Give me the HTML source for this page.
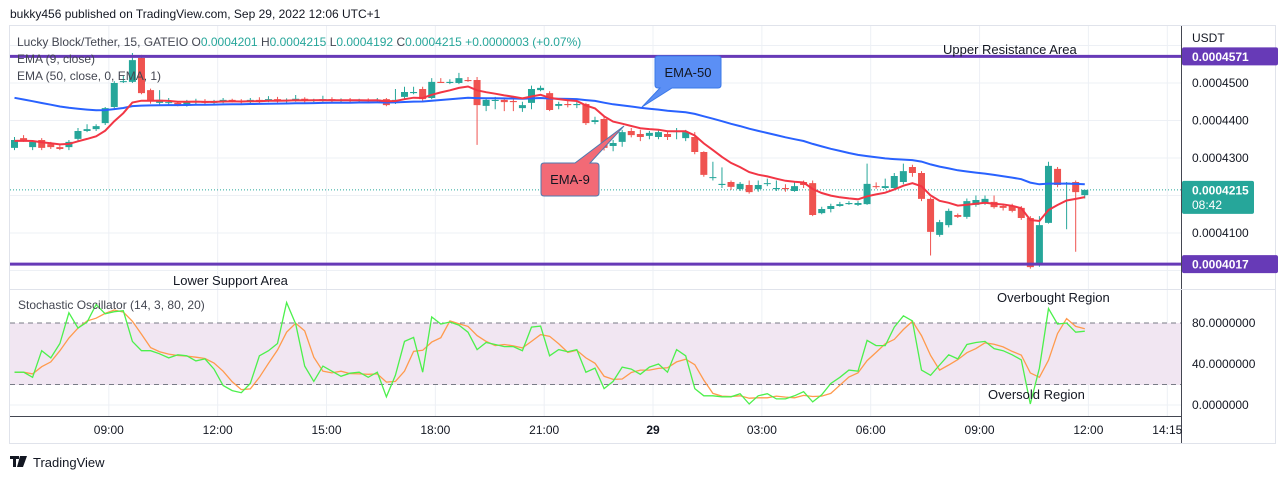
<!DOCTYPE html>
<html><head><meta charset="utf-8"><style>
html,body{margin:0;padding:0;background:#fff;}
body{width:1280px;height:479px;overflow:hidden;font-family:"Liberation Sans",sans-serif;}
svg text{font-family:"Liberation Sans",sans-serif;}
</style></head><body>
<svg id="chart" width="1280" height="479" viewBox="0 0 1280 479" xmlns="http://www.w3.org/2000/svg">
<text x="10" y="18" font-size="12" fill="#131722">bukky456 published on TradingView.com, Sep 29, 2022 12:06 UTC+1</text>
<rect x="9.5" y="25.5" width="1266" height="418" fill="none" stroke="#e0e3eb"/>
<g id="grid"></g>
<rect x="10" y="323" width="1171" height="62" fill="#f1e6f2"/>
<g id="marks"></g>
<line x1="1181.5" y1="26" x2="1181.5" y2="443" stroke="#434651"/>
<line x1="10" y1="416.5" x2="1181" y2="416.5" stroke="#434651"/>
<line x1="10" y1="289.5" x2="1276" y2="289.5" stroke="#e0e3eb"/>
<g id="axes"></g>
<text x="17" y="46" font-size="12" fill="#434651">Lucky Block/Tether, 15, GATEIO <tspan>O</tspan><tspan fill="#26a69a">0.0004201</tspan> <tspan>H</tspan><tspan fill="#26a69a">0.0004215</tspan> <tspan>L</tspan><tspan fill="#26a69a">0.0004192</tspan> <tspan>C</tspan><tspan fill="#26a69a">0.0004215 +0.0000003 (+0.07%)</tspan></text>
<text x="17" y="63" font-size="12" fill="#434651">EMA (9, close)</text>
<text x="17" y="80" font-size="12" fill="#434651">EMA (50, close, 0, EMA, 1)</text>
<text x="943" y="54" font-size="13" fill="#131722">Upper Resistance Area</text>
<text x="173" y="285" font-size="13" fill="#131722">Lower Support Area</text>
<text x="18" y="309" font-size="12" fill="#434651">Stochastic Oscillator (14, 3, 80, 20)</text>
<text x="997" y="302" font-size="13" fill="#131722">Overbought Region</text>
<text x="988" y="399" font-size="13" fill="#131722">Oversold Region</text>
<g>
<path d="M658,56 H718 Q721,56 721,59 V85 Q721,88 718,88 H672 L642,107 L660,88 H658 Q655,88 655,85 V59 Q655,56 658,56 Z" fill="#5b8ff5" stroke="#3a78e8"/>
<text x="688" y="77" font-size="13" fill="#131722" text-anchor="middle">EMA-50</text>
</g>
<g>
<path d="M544,163 H575 L624,126 L590,163 H596 Q599,163 599,166 V193 Q599,196 596,196 H544 Q541,196 541,193 V166 Q541,163 544,163 Z" fill="#f26a76" stroke="#4d7ab0"/>
<text x="570" y="184" font-size="13" fill="#131722" text-anchor="middle">EMA-9</text>
</g>
<g>
<path d="M10,456 h9 v3 h-3 v8 h-3 v-8 h-3 z M20,456 h3 l-3,11 h-3 z M23,456 h4 l-4,11 h-3 z" fill="#131722"/>
<text x="33" y="467" font-size="13" fill="#131722">TradingView</text>
</g>
</svg>
<script>
const opens =[4327,4353,4329,4348,4337,4329,4329,4351,4372,4377,4393,4436,4503,4503,4567,4481,4447,4447,4447,4441,4449,4452,4447,4450,4455,4452,4449,4455,4452,4457,4452,4455,4458,4452,4455,4457,4452,4455,4452,4455,4452,4457,4452,4463,4473,4484,4460,4503,4500,4500,4508,4508,4439,4452,4455,4452,4433,4447,4481,4473,4439,4444,4441,4444,4396,4404,4332,4343,4372,4364,4359,4356,4364,4369,4353,4356,4316,4247,4228,4236,4217,4228,4217,4231,4217,4220,4212,4236,4233,4153,4164,4172,4177,4175,4177,4225,4220,4220,4236,4276,4260,4191,4095,4121,4148,4143,4175,4180,4183,4172,4172,4167,4140,4015,4127,4271,4230,4236,4201];
const closes=[4348,4348,4343,4327,4329,4324,4343,4372,4377,4385,4433,4500,4505,4561,4473,4452,4455,4449,4441,4449,4452,4447,4450,4455,4452,4449,4455,4452,4457,4452,4455,4458,4452,4455,4457,4452,4455,4452,4455,4452,4455,4441,4455,4476,4476,4457,4503,4500,4503,4513,4505,4441,4455,4455,4449,4449,4441,4484,4487,4428,4444,4441,4444,4393,4401,4327,4340,4369,4361,4356,4367,4369,4356,4372,4369,4316,4255,4249,4231,4223,4231,4209,4228,4233,4220,4217,4225,4228,4148,4164,4172,4177,4180,4180,4231,4223,4225,4252,4265,4260,4191,4103,4129,4159,4143,4185,4188,4191,4169,4167,4159,4140,4009,4121,4279,4228,4234,4209,4215];
const highs =[4356,4361,4348,4353,4343,4337,4348,4380,4390,4390,4436,4505,4520,4580,4575,4485,4481,4460,4450,4455,4458,4457,4455,4460,4458,4457,4460,4462,4465,4463,4459,4468,4462,4458,4466,4462,4459,4460,4458,4459,4460,4460,4484,4490,4490,4490,4513,4513,4510,4527,4516,4516,4460,4463,4460,4457,4450,4493,4493,4478,4450,4452,4450,4447,4410,4410,4348,4375,4380,4375,4372,4375,4370,4380,4375,4369,4318,4290,4275,4240,4236,4240,4240,4245,4240,4230,4238,4240,4240,4170,4178,4183,4185,4185,4285,4235,4245,4260,4285,4282,4265,4195,4135,4165,4152,4192,4200,4200,4200,4178,4178,4172,4145,4145,4290,4276,4236,4240,4215];
const lows  =[4321,4343,4321,4321,4324,4321,4321,4345,4369,4372,4388,4430,4500,4500,4470,4445,4440,4441,4438,4437,4444,4443,4442,4446,4448,4444,4445,4447,4449,4448,4448,4450,4448,4449,4450,4448,4448,4448,4449,4448,4449,4438,4444,4458,4470,4452,4457,4500,4497,4497,4503,4335,4425,4430,4425,4425,4423,4430,4478,4425,4430,4435,4433,4388,4390,4320,4318,4330,4355,4345,4350,4350,4348,4350,4345,4310,4250,4240,4220,4215,4212,4205,4210,4225,4212,4210,4210,4220,4145,4150,4155,4170,4175,4172,4175,4218,4217,4215,4230,4250,4185,4040,4090,4115,4140,4138,4170,4175,4165,4160,4155,4135,4005,4010,4125,4222,4110,4050,4192];
const stochK=[32,32,27,53,46,60,90,75,81,98,89,91,92,62,53,53,50,46,49,48,43,45,35,19,14,12,21,48,53,60,100,79,38,23,38,33,28,31,32,27,32,8,29,62,66,32,86,79,81,78,71,54,61,59,57,57,53,76,77,48,54,52,54,32,36,16,23,37,35,30,37,40,32,54,48,16,9,9,8,8,11,1,9,11,6,6,9,13,3,10,21,27,34,33,63,58,58,76,87,82,34,29,39,49,45,59,61,62,55,53,49,44,1,36,94,79,80,71,72];
const ema9Seed=4345, ema50Seed=4465;
const resistance=4571, support=4017, lastPrice=4215;
const priceTicks=[4600,4500,4400,4300,4200,4100,4000];
const priceTickLabels=["","0.0004500","0.0004400","0.0004300","","0.0004100",""];
const stochTicks=[80,40,0];
const stochTickLabels=["80.0000000","40.0000000","0.0000000"];
const timeLabels=["09:00","12:00","15:00","18:00","21:00","29","03:00","06:00","09:00","12:00","14:15"];
const timeIdx=[10.4,22.4,34.4,46.4,58.4,70.4,82.4,94.4,106.4,118.4,127.1];

const NS="http://www.w3.org/2000/svg";
const xOf=i=>14.5+i*9.07;
const yP=p=>83+(4500-p)*0.375;
const yS=v=>405-v*1.025;
function mk(tag,attrs,parent){const e=document.createElementNS(NS,tag);for(const k in attrs)e.setAttribute(k,attrs[k]);parent.appendChild(e);return e;}
const grid=document.getElementById('grid'),marks=document.getElementById('marks'),axes=document.getElementById('axes');

priceTicks.forEach((p,k)=>{const y=yP(p);if(y<27||y>288)return;
 const g=mk('line',{x1:10,x2:1181,y1:y,y2:y,stroke:'#edf0f5'},grid);
 
 
 if(priceTickLabels[k]){const t=mk('text',{x:1192,y:y+4,'font-size':12,fill:'#131722'},axes);t.textContent=priceTickLabels[k];
 
 }
});
mk('line',{x1:10,x2:1181,y1:yS(40),y2:yS(40),stroke:'#e0e3eb'},grid);
mk('line',{x1:10,x2:1181,y1:yS(0),y2:yS(0),stroke:'#edf0f5'},grid);
stochTicks.forEach((v,k)=>{const t=mk('text',{x:1192,y:yS(v)+4,'font-size':12,fill:'#131722'},axes);t.textContent=stochTickLabels[k];
 
 });
timeLabels.forEach((s,k)=>{const x=xOf(timeIdx[k]);
 const l=mk('line',{x1:x,x2:x,y1:26,y2:416,stroke:'#edf0f5'},grid);
 
 
 const t=mk('text',{x:x,y:434,'font-size':12,fill:'#131722','text-anchor':'middle','font-weight':s==='29'?'bold':'normal'},axes);t.textContent=s;
 
 });

// dashed 80/20
[80,20].forEach(v=>{const l=mk('line',{x1:10,x2:1181,y1:yS(v),y2:yS(v),stroke:'#787b86','stroke-dasharray':'5,4'},marks);
 
 });

// last price line
const lp=mk('line',{x1:10,x2:1181,y1:yP(lastPrice),y2:yP(lastPrice),stroke:'#26a69a','stroke-dasharray':'1,2'},marks);



// candles
for(let i=0;i<closes.length;i++){
 const up=closes[i]>=opens[i],col=up?'#26a69a':'#ef5350',x=xOf(i);
 const g=mk('g',{},marks);
 
 
 mk('line',{x1:x,x2:x,y1:yP(highs[i]),y2:yP(lows[i]),stroke:col,'stroke-width':1},g);
 const t=yP(Math.max(opens[i],closes[i])),b=yP(Math.min(opens[i],closes[i]));
 mk('rect',{x:x-3.5,y:t,width:7,height:Math.max(1,b-t),fill:col},g);
}
// EMAs
function ema(n,seed){const a=2/(n+1);let e=seed;return closes.map(c=>(e=e+a*(c-e)));}
function linePath(vals,fy){return vals.map((v,i)=>(i?'L':'M')+xOf(i).toFixed(1)+','+fy(v).toFixed(1)).join(' ');}
const e50=ema(50,ema50Seed),e9=ema(9,ema9Seed);
const p50=mk('path',{d:linePath(e50,yP),fill:'none',stroke:'#2962ff','stroke-width':2},marks);


const p9=mk('path',{d:linePath(e9,yP),fill:'none',stroke:'#f23645','stroke-width':2},marks);


// stochastic
const stochD=stochK.map((v,i)=>{const s=stochK.slice(Math.max(0,i-2),i+1);return s.reduce((a,b)=>a+b,0)/s.length;});
const pd=mk('path',{d:linePath(stochD,yS),fill:'none',stroke:'#ff9a4d','stroke-width':1.3},marks);


const pk=mk('path',{d:linePath(stochK,yS),fill:'none',stroke:'#4cf04c','stroke-width':1.3},marks);


// S/R lines
[[resistance,'resistance'],[support,'support']].forEach(([p,n])=>{const y=yP(p);
 const l=mk('line',{x1:10,x2:1181,y1:y,y2:y,stroke:'#673ab7','stroke-width':3},marks);
 
 
 const r=mk('rect',{x:1182,y:y-9,width:96,height:18,fill:'#673ab7',rx:2},axes);
 
 
 const t=mk('text',{x:1192,y:y+4.5,'font-size':12,fill:'#fff','font-weight':'bold'},axes);t.textContent='0.000'+p;
 
 });
// last price tag
const ly=yP(lastPrice);
const lr=mk('rect',{x:1182,y:ly-9,width:72,height:33,fill:'#26a69a',rx:2},axes);


const lt=mk('text',{x:1192,y:ly+4.5,'font-size':12,fill:'#fff','font-weight':'bold'},axes);lt.textContent='0.000'+lastPrice;


const ct=mk('text',{x:1192,y:ly+19,'font-size':12,fill:'#fff'},axes);ct.textContent='08:42';


const cu=mk('text',{x:1192,y:42,'font-size':12,fill:'#131722'},axes);cu.textContent='USDT';


</script>
</body></html>
